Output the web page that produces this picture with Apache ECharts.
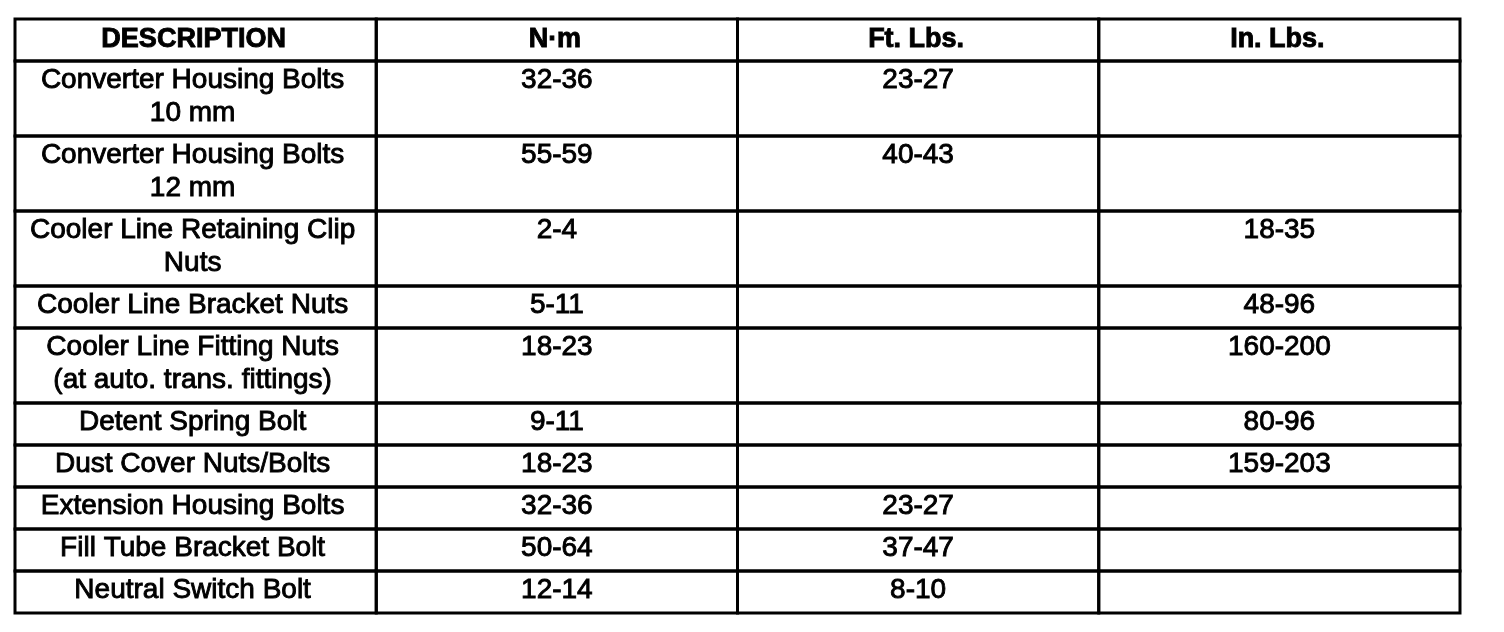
<!DOCTYPE html>
<html>
<head>
<meta charset="utf-8">
<script src="https://cdn.jsdelivr.net/npm/echarts@6/dist/echarts.min.js"></script>
<style>
  html, body { margin: 0; padding: 0; background: #ffffff; }
  #chart { width: 1504px; height: 632px; }
</style>
</head>
<body>
<div id="chart"></div>
<script>
// ---- data ----
const headers = ['DESCRIPTION', 'N·m', 'Ft. Lbs.', 'In. Lbs.'];
const descriptions = [
  'Converter Housing Bolts\n10 mm',
  'Converter Housing Bolts\n12 mm',
  'Cooler Line Retaining Clip\nNuts',
  'Cooler Line Bracket Nuts',
  'Cooler Line Fitting Nuts\n(at auto. trans. fittings)',
  'Detent Spring Bolt',
  'Dust Cover Nuts/Bolts',
  'Extension Housing Bolts',
  'Fill Tube Bracket Bolt',
  'Neutral Switch Bolt'
];
const newtonMeters = ['32-36', '55-59', '2-4', '5-11', '18-23', '9-11', '18-23', '32-36', '50-64', '12-14'];
const footPounds   = ['23-27', '40-43', '', '', '', '', '', '23-27', '37-47', '8-10'];
const inchPounds   = ['', '', '18-35', '48-96', '160-200', '80-96', '159-203', '', '', ''];

// ---- layout constants (style, not data) ----
const SINGLE_ROW = 42;
const EXTRA_LINE = 33;
const LINE_HEIGHT = 33;
const FONT = '"Liberation Sans", Arial, Helvetica, sans-serif';

// build table
const columns = [descriptions, newtonMeters, footPounds, inchPounds];
const rows = [];
rows.push({ cells: headers, header: true, lines: 1 });
for (let i = 0; i < descriptions.length; i++) {
  const cells = columns.map(col => col[i]);
  const lines = Math.max.apply(null, cells.map(t => t.split('\n').length));
  rows.push({ cells: cells, header: false, lines: lines });
}
let cursor = 0;
const cellData = [];
rows.forEach((row, r) => {
  const h = SINGLE_ROW + EXTRA_LINE * (row.lines - 1);
  row.cells.forEach((txt, c) => {
    cellData.push({ value: [c, cursor, cursor + h, r], text: txt, header: row.header });
  });
  cursor += h;
});
const totalHeight = cursor;

const chart = echarts.init(document.getElementById('chart'), null, { renderer: 'canvas' });
chart.setOption({
  backgroundColor: '#ffffff',
  animation: false,
  grid: { left: 15, right: 44, top: 19, bottom: 19 },
  xAxis: { type: 'value', min: 0, max: headers.length, show: false },
  yAxis: { type: 'value', min: 0, max: totalHeight, inverse: true, show: false },
  series: [{
    type: 'custom',
    clip: false,
    data: cellData,
    encode: { x: 0, y: [1, 2] },
    renderItem: function (params, api) {
      const item = cellData[params.dataIndex];
      const c = api.value(0), top = api.value(1), bottom = api.value(2);
      const p0 = api.coord([c, top]);
      const p1 = api.coord([c + 1, bottom]);
      const children = [{
        type: 'rect',
        shape: { x: p0[0], y: p0[1], width: p1[0] - p0[0], height: p1[1] - p0[1] },
        style: { fill: 'none', stroke: '#000000', lineWidth: 3 }
      }];
      if (item.text) {
        children.push({
          type: 'text',
          z2: 10,
          style: item.header ? {
            text: item.text,
            x: (p0[0] + p1[0]) / 2 - 2,
            y: (p0[1] + p1[1]) / 2,
            align: 'center',
            verticalAlign: 'middle',
            fill: '#000000',
            stroke: '#000000',
            lineWidth: 0.9,
            font: 'bold 27px ' + FONT
          } : {
            text: item.text,
            x: (p0[0] + p1[0]) / 2 - (c === 0 ? 3 : 0),
            y: p0[1] + 3,
            align: 'center',
            verticalAlign: 'top',
            lineHeight: LINE_HEIGHT,
            fill: '#000000',
            stroke: '#000000',
            lineWidth: 0.9,
            font: 'normal 28px ' + FONT
          }
        });
      }
      return { type: 'group', children: children };
    }
  }]
});
</script>
</body>
</html>
